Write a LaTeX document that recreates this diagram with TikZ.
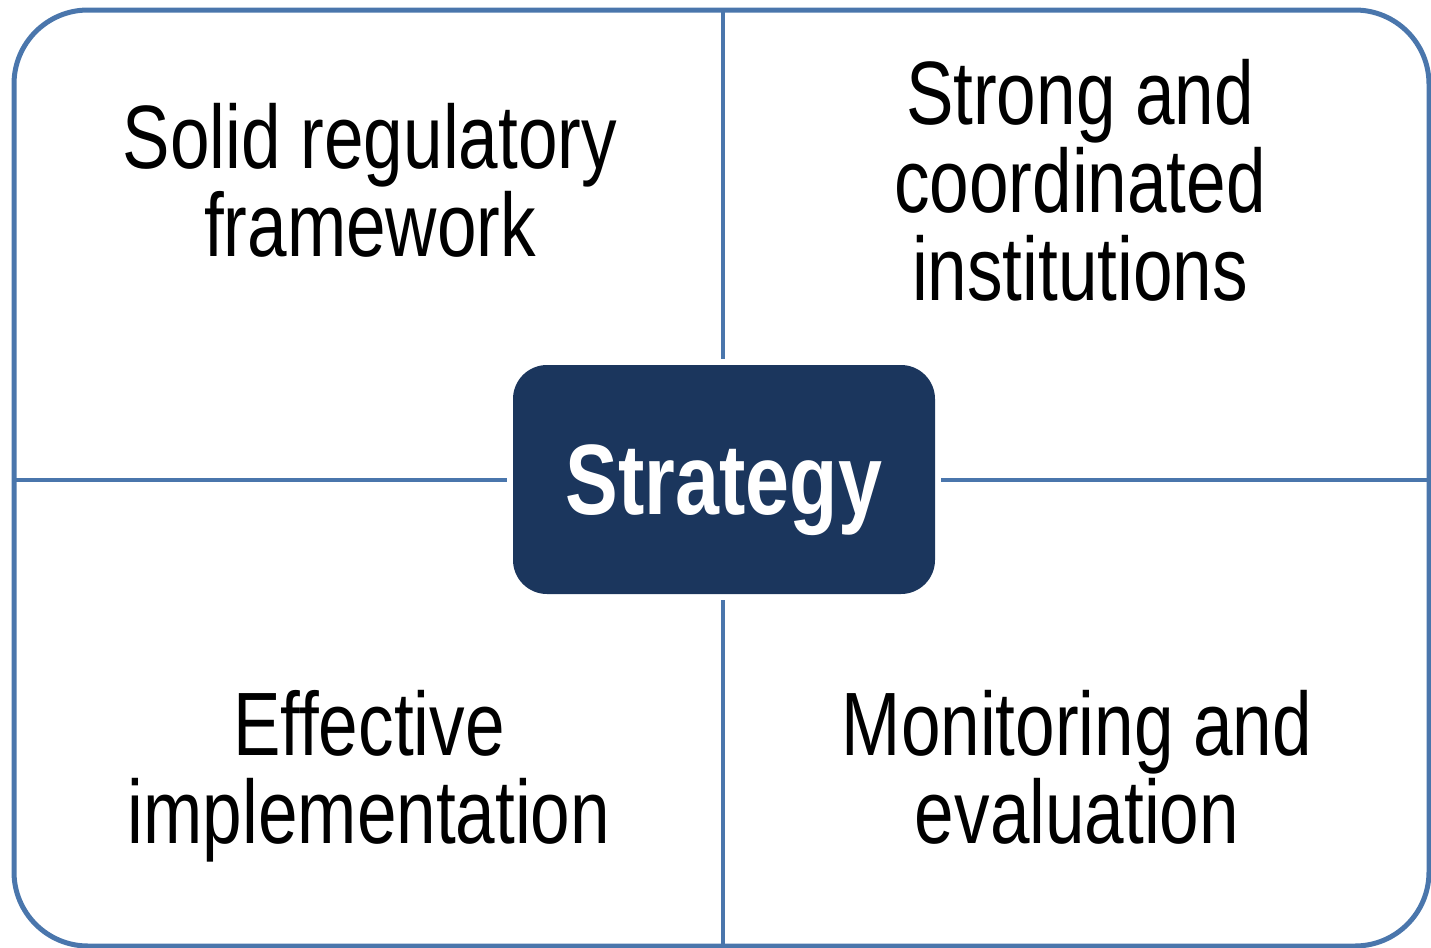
\documentclass[tikz,border=0pt]{standalone}
\usepackage{fontspec}
\setmainfont[FakeStretch=0.79]{Liberation Sans}
\definecolor{framecol}{RGB}{74,118,172}
\definecolor{navy}{RGB}{27,54,93}
\usetikzlibrary{positioning}

\begin{document}
\begin{tikzpicture}[x=0.5pt,y=-0.5pt,
	    frameline/.style= {
	        draw=framecol, line width=2.5pt},
	    crossline/.style= {
	        draw=framecol, line width=2pt},
	    centerbox/.style= {
	        fill=navy, text=white, rounded corners=17pt,
	        minimum width=211pt, minimum height=114.5pt, text depth=0pt,
	        outer sep=3pt, font=\bfseries\fontsize{50}{50}\selectfont},
	    quadtext/.style= {
	        align=center, font=\fontsize{45}{44}\selectfont}]

		\useasboundingbox (0,0) rectangle (1431,948);

		% Frame
		\draw[frameline, rounded corners=37pt] (14,10) rectangle (1429,946);
		\coordinate (ftop) at (723,10);
		\coordinate (fbottom) at (723,946);
		\coordinate (fleft) at (14,479.5);
		\coordinate (fright) at (1429,479.5);

		% Centre
		\node [centerbox] (strategy) at (724,479.5) {Strategy};

		% Cross
		\draw[crossline]
		    (ftop) -- (ftop |- strategy.north)
		    (fbottom) -- (fbottom |- strategy.south)
		    (fleft) -- (strategy.west)
		    (fright) -- (strategy.east);

		% Labels
		\node[quadtext] (regul) at (370,180.5) {Solid regulatory\\framework};
		\node[quadtext] (instit) at (1080,180.5) {Strong and\\coordinated\\institutions};
		\node[quadtext] (implem) at (369,776.5) {Effective\\implementation};
		\node[quadtext] (monit) at (1077,767) {Monitoring and\\evaluation};

	\end{tikzpicture}
\end{document}
